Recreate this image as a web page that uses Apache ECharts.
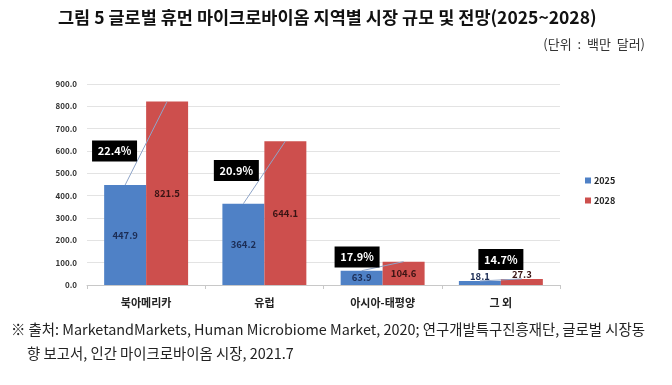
<!DOCTYPE html>
<html><head><meta charset="utf-8">
<script src="https://cdn.jsdelivr.net/npm/echarts@6/dist/echarts.min.js"></script>
<style>html,body{margin:0;padding:0;background:#fff;}#c{width:672px;height:385px;}</style>
</head><body><div id="c"></div>
<script>
const categories = ['북아메리카', '유럽', '아시아-태평양', '그 외'];
const values2025 = [447.9, 364.2, 63.9, 18.1];
const values2028 = [821.5, 644.1, 104.6, 27.3];
const growthRates = ['22.4%', '20.9%', '17.9%', '14.7%'];
const yTicks = [0, 100, 200, 300, 400, 500, 600, 700, 800, 900];
const seriesNames = ['2025', '2028'];

// layout of the growth-rate boxes (value-axis height of box centre, x shift as fraction of band)
const boxAnchorY = [600, 513, 125, 114];
const boxShiftX = [-0.267, -0.237, -0.216, 0.0];

const FONT = '"Noto Sans CJK KR", "Noto Sans", sans-serif';
const chart = echarts.init(document.getElementById('c'), null, {renderer: 'canvas'});

function barLabel(color, vals) {
  return vals.map((v, k) => ({
    value: v,
    label: {
      show: true,
      position: k === 3 ? 'top' : 'inside',
      distance: 0,
      color: color,
      fontSize: 9.5,
      fontWeight: 'bold',
      fontFamily: FONT,
      formatter: (p) => p.value.toFixed(1)
    }
  }));
}

const option = {
  animation: false,
  backgroundColor: '#fff',
  graphic: [
    {type: 'text', left: 58, top: 9, style: {text: '그림 5 글로벌 휴먼 마이크로바이옴 지역별 시장 규모 및 전망(2025~2028)', font: 'bold 17.5px ' + FONT, fill: '#111'}},
    {type: 'text', right: 27, top: 38, style: {text: '(단위  :  백만  달러)', font: '13px ' + FONT, fill: '#333'}},
    {type: 'text', left: 11, top: 322, style: {text: '※ 출처: MarketandMarkets, Human Microbiome Market, 2020; 연구개발특구진흥재단, 글로벌 시장동', font: '14.4px ' + FONT, fill: '#222'}},
    {type: 'text', left: 27, top: 346, style: {text: '향 보고서, 인간 마이크로바이옴 시장, 2021.7', font: '14.4px ' + FONT, fill: '#222'}}
  ],
  legend: {
    data: seriesNames,
    orient: 'vertical',
    left: 580,
    top: 171,
    itemWidth: 6,
    itemHeight: 6,
    itemGap: 11,
    icon: 'rect',
    textStyle: {fontSize: 9, fontWeight: 'bold', color: '#222', fontFamily: FONT, padding: [0, 0, 0, -2]}
  },
  grid: {left: 87, right: 112, top: 84, bottom: 100, containLabel: false},
  xAxis: {
    type: 'category',
    data: categories,
    axisLine: {lineStyle: {color: '#c8c8c8'}},
    axisTick: {show: true, length: 4, lineStyle: {color: '#c8c8c8'}},
    axisLabel: {fontSize: 11, fontWeight: 'bold', color: '#222', fontFamily: FONT, margin: 12}
  },
  yAxis: {
    type: 'value',
    min: yTicks[0],
    max: yTicks[yTicks.length - 1],
    interval: 100,
    axisLine: {show: false},
    axisTick: {show: false},
    splitLine: {lineStyle: {color: '#e3e3e3'}},
    axisLabel: {fontSize: 8, fontWeight: 'bold', color: '#333', fontFamily: FONT, margin: 10, formatter: (v) => v.toFixed(1)}
  },
  series: [
    {name: seriesNames[0], type: 'bar', barGap: '0%', barCategoryGap: '29%', itemStyle: {color: '#4f81c6'}, data: barLabel('#1c2d55', values2025)},
    {name: seriesNames[1], type: 'bar', barGap: '0%', barCategoryGap: '29%', itemStyle: {color: '#cd4f4d'}, data: barLabel('#3a1414', values2028)},
    {
      type: 'custom',
      silent: true,
      z: 5,
      data: categories.map((c, i) => [i, values2025[i], values2028[i]]),
      renderItem: function (params, api) {
        const i = api.value(0);
        const a = api.value(1);
        const b = api.value(2);
        const band = api.size([1, 0])[0];
        const bw = band * 0.355;
        const cx = api.coord([i, 0])[0];
        const p1 = [cx - bw / 2, api.coord([i, a])[1]];
        const p2 = [cx + bw / 2, api.coord([i, b])[1]];
        const bx = cx + boxShiftX[i] * band;
        const by = api.coord([i, boxAnchorY[i]])[1];
        const w = 45, h = 21;
        return {
          type: 'group',
          children: [
            {type: 'line', shape: {x1: p1[0], y1: p1[1], x2: p2[0], y2: p2[1]}, style: {stroke: '#8fa5c9', lineWidth: 1}},
            {type: 'rect', shape: {x: bx - w / 2, y: by - h / 2, width: w, height: h}, style: {fill: '#000'}},
            {type: 'text', style: {text: growthRates[i], x: bx, y: by, align: 'center', verticalAlign: 'middle', fill: '#fff', font: 'bold 11px ' + FONT}}
          ]
        };
      }
    }
  ]
};
chart.setOption(option);
</script>
</body></html>
